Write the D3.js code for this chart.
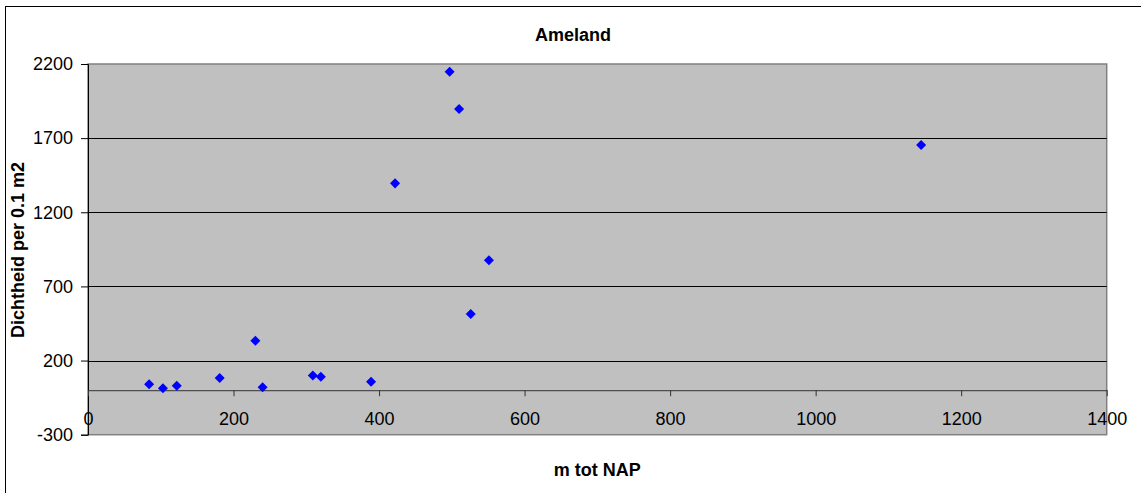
<!DOCTYPE html>
<html>
<head>
<meta charset="utf-8">
<script src="https://cdn.jsdelivr.net/npm/d3@7"></script>
<style>
  html, body { margin: 0; padding: 0; background: #fff; }
  svg { display: block; font-family: "Liberation Sans", Arial, sans-serif; }
</style>
</head>
<body>
<svg id="chart" width="1141" height="493"></svg>
<script>
// Ameland: density per 0.1 m2 against distance (m tot NAP)
const hoogte = [84, 103, 122, 181, 230, 240, 309, 320, 389, 422, 497, 510, 526, 551, 1145];
const dichtheid = [40, 13, 30, 82, 334, 20, 100, 91, 57, 1395, 2148, 1896, 514, 876, 1654];
const xTicks = [0, 200, 400, 600, 800, 1000, 1200, 1400];
const yTicks = [-300, 200, 700, 1200, 1700, 2200];

const svg = d3.select("#chart");
const plot = { left: 88, top: 64, right: 1106.7, bottom: 434.7 };

const x = d3.scaleLinear().domain([0, 1400]).range([plot.left, plot.right]);
const y = d3.scaleLinear().domain([-300, 2200]).range([plot.bottom, plot.top]);

// chart area border (runs past the bottom/right of the view)
svg.append("rect")
  .attr("x", 5.5).attr("y", 6.5)
  .attr("width", 1200).attr("height", 600)
  .attr("fill", "#fff").attr("stroke", "#000").attr("stroke-width", 1);

// plot area
svg.append("rect")
  .attr("x", plot.left).attr("y", plot.top)
  .attr("width", plot.right - plot.left).attr("height", plot.bottom - plot.top)
  .attr("fill", "#c0c0c0").attr("stroke", "#808080").attr("stroke-width", 1.5);

// horizontal gridlines
svg.append("g")
  .selectAll("line")
  .data(yTicks.filter(d => d > -300 && d < 2200))
  .join("line")
  .attr("x1", plot.left).attr("x2", plot.right)
  .attr("y1", d => Math.round(y(d)) + 0.5).attr("y2", d => Math.round(y(d)) + 0.5)
  .attr("stroke", "#000").attr("stroke-width", 1);

// plain hyphen for negatives
const fmt = d => String(d);

// y axis
const yAxis = d3.axisLeft(y).tickValues(yTicks).tickSize(7).tickPadding(8).tickFormat(fmt);
const gy = svg.append("g").attr("transform", `translate(${plot.left},0)`).call(yAxis);
gy.select(".domain").attr("stroke", "#000");
gy.selectAll(".tick line").attr("stroke", "#000");
gy.selectAll("text").attr("font-size", 18).attr("fill", "#000")
  .attr("font-family", "Liberation Sans, Arial, sans-serif");

// x axis, crossing at y = 0
const xAxis = d3.axisBottom(x).tickValues(xTicks).tickSize(6).tickPadding(16).tickSizeOuter(0).tickFormat(fmt);
const gx = svg.append("g").attr("transform", `translate(0,${y(0)})`).call(xAxis);
gx.select(".domain").attr("stroke", "#333");
gx.selectAll(".tick line").attr("stroke", "#333");
gx.selectAll("text").attr("font-size", 18).attr("fill", "#000")
  .attr("font-family", "Liberation Sans, Arial, sans-serif");

// data markers (diamonds)
const diamond = d3.symbol().type(d3.symbolDiamond2).size(64);
svg.append("g")
  .selectAll("path")
  .data(hoogte.map((h, i) => [h, dichtheid[i]]))
  .join("path")
  .attr("d", diamond)
  .attr("transform", d => `translate(${x(d[0])},${y(d[1])})`)
  .attr("fill", "#0000ff");

// titles
svg.append("text")
  .attr("x", 573).attr("y", 41)
  .attr("text-anchor", "middle")
  .attr("font-size", 18).attr("font-weight", "bold")
  .text("Ameland");

svg.append("text")
  .attr("x", (plot.left + plot.right) / 2).attr("y", 476)
  .attr("text-anchor", "middle")
  .attr("font-size", 18).attr("font-weight", "bold")
  .text("m tot NAP");

svg.append("text")
  .attr("transform", `translate(24,250) rotate(-90)`)
  .attr("text-anchor", "middle")
  .attr("font-size", 18).attr("font-weight", "bold")
  .text("Dichtheid per 0.1 m2");
</script>
</body>
</html>
